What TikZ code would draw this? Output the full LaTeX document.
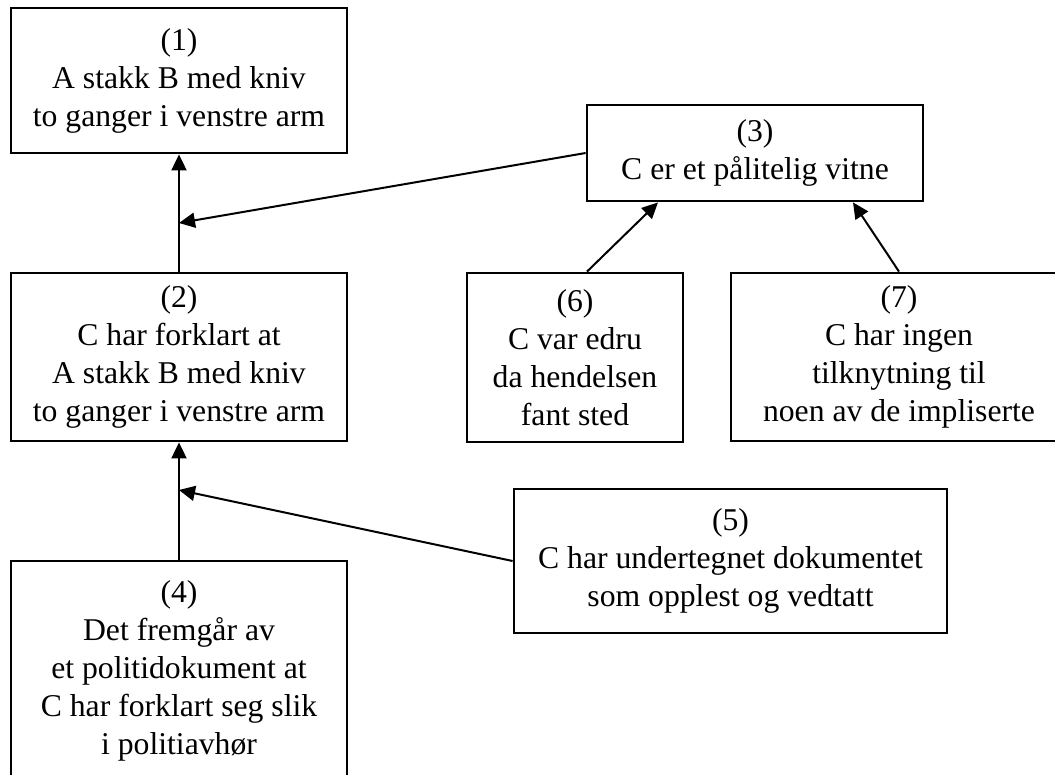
\documentclass[tikz,border=0pt]{standalone}
\usepackage{fontspec}
\setmainfont{Liberation Serif}
\usetikzlibrary{arrows.meta}
\tikzset{
  claim/.style={draw=black, line width=2.8pt, fill=white, inner sep=0pt,
    align=center, font=\fontsize{31.7}{38}\selectfont},
  link/.style={line width=2pt, -{Triangle[length=16pt,width=15pt]}}
}
\begin{document}
\begin{tikzpicture}[x=1pt,y=-1pt]
\useasboundingbox (0,0) rectangle (1055,774);
\clip (0,0) rectangle (1055,774);
\fill[white] (0,0) rectangle (1055,774);

\node[claim, minimum width=336pt, minimum height=145pt] (n1) at (179,80.5)
  {(1)\\A stakk B med kniv\\to ganger i venstre arm};
\node[claim, minimum width=336pt, minimum height=168pt] (n2) at (179,357)
  {(2)\\C har forklart at\\A stakk B med kniv\\to ganger i venstre arm};
\node[claim, minimum width=336pt, minimum height=96pt] (n3) at (755,153)
  {(3)\\C er et pålitelig vitne};
\node[claim, minimum width=336pt, minimum height=220pt] (n4) at (179,671)
  {(4)\\Det fremgår av\\et politidokument at\\C har forklart seg slik\\i politiavhør};
\node[claim, minimum width=433pt, minimum height=144pt] (n5) at (730.5,561)
  {(5)\\C har undertegnet dokumentet\\som opplest og vedtatt};
\node[claim, minimum width=216pt, minimum height=169pt] (n6) at (575,357.5)
  {(6)\\C var edru\\da hendelsen\\fant sted};
\node[claim, minimum width=336pt, minimum height=168pt] (n7) at (899,357)
  {(7)\\C har ingen\\tilknytning til\\noen av de impliserte};

% junction points on the vertical support lines
\coordinate (j12) at (179,223);
\coordinate (j24) at (179,490);

\draw[link] (n2.north) -- (n1.south);
\draw[link] (n4.north) -- (n2.south);
\draw[link] (n3.west) -- (j12);
\draw[link] (n5.west) -- (j24);
\draw[link] ([xshift=12pt]n6.north) -- ([xshift=-97pt]n3.south);
\draw[link] (n7.north) -- ([xshift=98pt]n3.south);
\end{tikzpicture}
\end{document}
